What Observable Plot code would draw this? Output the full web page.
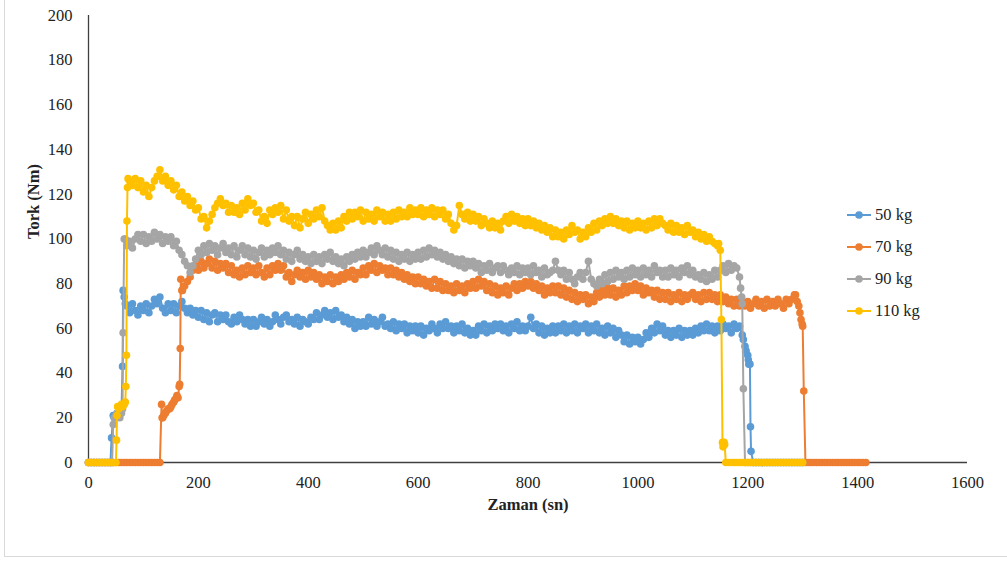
<!DOCTYPE html>
<html><head><meta charset="utf-8">
<script src="https://cdn.jsdelivr.net/npm/d3@7"></script>
<script src="https://cdn.jsdelivr.net/npm/@observablehq/plot@0.6"></script>
<style>
body{margin:0;background:#fff;}
#wrap{position:relative;width:1007px;height:563px;overflow:hidden;font-family:'Liberation Serif','Times New Roman',Tinos,'DejaVu Serif',serif;}
#wrap svg, #wrap svg text{font-family:'Liberation Serif','Times New Roman',Tinos,'DejaVu Serif',serif !important;}
#border{position:absolute;left:4px;top:-5px;width:1010px;height:562px;border:1px solid #d9d9d9;box-sizing:border-box;pointer-events:none;}
#chart{position:absolute;left:0;top:0;}
#legend{position:absolute;left:846px;top:203px;}
.row{display:flex;align-items:center;height:24px;margin-bottom:8px;font-size:16.5px;color:#222;}
.row svg{margin-right:3px;}
</style></head>
<body>
<div id="wrap"><div id="chart"></div><div id="legend"></div><div id="border"></div></div>
<script>
const seriesNames = ["50 kg", "70 kg", "90 kg", "110 kg"];
const seriesColors = ["#5B9BD5", "#ED7D31", "#A5A5A5", "#FFC000"];
const xTicks = [0, 200, 400, 600, 800, 1000, 1200, 1400, 1600];
const yTicks = [0, 20, 40, 60, 80, 100, 120, 140, 160, 180, 200];
const xTitle = "Zaman (sn)";
const yTitle = "Tork (Nm)";
const sampleStep = 5; // seconds between grid readings

// 50 kg : readings every 5 s from t = 0
const grid50 = [
  0,0,0,0,0,0,0,0,0,21,
  21,22,23,74,70,67,71,68,66,70,
  68,71,67,70,73,71,74,69,67,71,
  68,71,67,70,72,69,67,69,66,68,
  65,68,64,67,63,66,67,63,66,64,
  66,63,62,65,63,66,64,62,64,61,
  64,61,63,65,62,64,61,63,66,64,
  62,65,66,63,64,62,65,61,64,63,
  62,65,64,67,64,66,68,65,67,64,
  68,65,66,63,65,62,64,60,63,61,
  63,61,65,62,64,61,63,65,61,62,
  60,63,59,62,60,62,58,61,59,61,
  58,61,57,60,59,62,60,58,62,60,
  63,60,61,58,61,59,62,58,60,57,
  59,57,61,59,62,58,61,59,62,60,
  62,59,61,58,62,60,63,59,61,59,
  61,65,60,62,58,61,57,60,58,61,
  58,61,59,62,58,61,59,62,58,61,
  60,62,58,61,59,62,58,60,57,61,
  58,60,56,59,57,54,57,53,56,54,
  56,53,55,58,56,60,58,62,59,61,
  57,59,56,59,57,60,56,59,57,59,
  57,60,58,61,59,62,59,61,58,61,
  59,62,60,61,58,62,60,61,57,52,
  48,16,0,0,0,0,0,0,0,0,
  0,0,0,0,0,0,0,0,0,0,
  0
];
const extra50 = [[42,11],[47,20],[52,22],[57,22],[62,43],[63,77],[67,71],[1192,55],[1197,50],[1201,46],[1202,44],[1204,44],[1206,5]];

// 70 kg
const grid70 = [
  0,0,0,0,0,0,0,0,0,0,
  0,0,0,0,0,0,0,0,0,0,
  0,0,0,0,0,0,0,20,22,24,
  25,27,29,34,77,79,81,83,86,88,
  86,90,87,89,91,87,90,86,89,87,
  89,85,88,84,86,83,87,84,88,85,
  87,84,88,85,83,87,84,88,86,89,
  86,88,83,85,81,84,86,83,85,82,
  86,83,85,82,84,80,83,81,84,80,
  83,81,84,82,85,83,86,82,85,84,
  87,84,88,86,89,85,88,86,87,84,
  87,84,86,83,85,82,84,81,83,80,
  83,80,82,79,81,78,82,78,81,77,
  80,77,79,76,80,77,79,76,80,78,
  81,78,82,79,81,77,80,76,79,75,
  78,76,79,75,78,80,77,80,78,81,
  79,81,78,80,77,79,75,78,76,79,
  76,79,75,78,74,77,73,76,72,75,
  73,75,71,74,72,76,74,77,75,78,
  75,78,74,77,75,79,76,79,77,80,
  77,79,75,78,76,77,74,77,73,76,
  73,76,72,75,73,76,72,75,73,75,
  76,73,75,72,76,73,76,73,75,72,
  75,72,74,71,73,70,73,70,72,70,
  72,69,71,73,70,72,69,73,70,72,
  70,73,71,69,73,71,73,75,72,67,
  61,0,0,0,0,0,0,0,0,0,
  0,0,0,0,0,0,0,0,0,0,
  0,0,0,0
];
const extra70 = [[133,26],[134,20],[137,21],[142,23],[148,24],[152,26],[157,28],[161,30],[163,29],[166,35],[167,51],[168,82],[171,77],[1287,75],[1293,70],[1297,64],[1299,62],[1302,32]];

// 90 kg
const grid90 = [
  0,0,0,0,0,0,0,0,0,17,
  21,21,22,100,97,99,96,100,102,99,
  102,98,101,99,103,100,102,98,101,99,
  101,97,99,95,93,90,88,85,88,91,
  95,93,97,94,98,95,97,93,96,98,
  94,96,93,97,92,95,97,93,96,92,
  95,91,94,96,92,95,93,96,94,97,
  93,95,91,94,90,93,95,91,93,90,
  92,89,93,90,92,89,93,91,94,90,
  92,89,91,88,92,90,93,91,94,92,
  95,92,94,96,93,97,95,93,96,92,
  95,91,94,90,93,91,94,90,93,91,
  94,91,95,92,96,93,95,92,94,91,
  93,90,92,89,91,88,91,87,90,88,
  90,87,89,85,88,86,89,85,87,88,
  85,88,86,84,87,85,88,84,87,85,
  87,84,88,85,86,83,87,84,85,86,
  90,86,84,86,82,85,82,80,83,85,
  82,85,90,82,80,79,82,80,84,81,
  85,82,86,83,85,82,86,83,87,84,
  86,83,87,84,86,83,88,85,86,83,
  86,83,87,84,86,83,87,85,88,84,
  86,83,84,82,85,81,84,82,86,83,
  86,88,85,89,86,88,87,83,71,0,
  0,0,0,0,0,0,0,0,0,0,
  0,0,0,0,0,0,0,0,0,0,
  0
];
const extra90 = [[43,0],[47,20],[52,22],[57,20],[62,24],[63,58],[67,100],[1187,78],[1189,74],[1192,33]];

// 110 kg
const grid110 = [
  0,0,0,0,0,0,0,0,0,0,
  0,24,26,26,108,126,124,127,123,126,
  121,124,119,123,126,128,131,126,128,124,
  126,122,124,119,121,117,119,115,117,113,
  114,109,110,105,108,111,114,116,118,115,
  116,112,115,112,114,111,116,113,118,115,
  116,112,113,108,110,107,113,111,114,112,
  115,109,113,108,110,106,110,105,109,112,
  107,111,109,113,110,114,108,106,104,107,
  104,108,105,110,108,112,109,112,110,113,
  108,112,109,111,108,113,110,112,108,111,
  108,112,109,113,110,112,110,114,111,113,
  111,114,110,113,111,114,110,113,111,113,
  109,111,107,104,106,115,111,109,112,108,
  111,108,110,106,109,107,105,108,105,107,
  104,108,110,107,111,108,110,107,109,106,
  109,106,108,105,107,104,106,103,105,101,
  104,101,103,100,104,102,106,103,104,100,
  103,101,105,103,107,104,108,106,109,107,
  110,107,109,106,108,105,108,104,107,105,
  108,105,107,104,108,105,109,106,109,107,
  106,104,107,103,106,103,105,102,106,103,
  104,101,103,100,102,99,101,99,98,97,
  95,7,0,0,0,0,0,0,0,0,
  0,0,0,0,0,0,0,0,0,0,
  0,0,0,0,0,0,0,0,0,0,
  0
];
const extra110 = [[51,10],[52,21],[53,25],[57,25],[62,25],[67,27],[68,34],[69,48],[71,123],[72,127],[1147,98],[1152,64],[1154,9],[1157,9],[1158,8]];

const grids = [grid50, grid70, grid90, grid110];
const extras = [extra50, extra70, extra90, extra110];

function build(name, grid, extra) {
  const pts = grid.map((v, i) => ({series: name, t: i * sampleStep, v}));
  extra.forEach(([t, v]) => pts.push({series: name, t, v}));
  pts.sort((a, b) => a.t - b.t);
  return pts;
}
const datasets = seriesNames.map((n, i) => build(n, grids[i], extras[i]));

const font = "'Liberation Serif','Times New Roman',Tinos,'DejaVu Serif',serif";
const marks = [
  Plot.ruleY([0], {stroke: "#404040", strokeWidth: 1.3}),
  Plot.ruleX([0], {stroke: "#404040", strokeWidth: 1.3})
];
datasets.forEach((d, i) => {
  marks.push(Plot.line(d, {x: "t", y: "v", stroke: seriesColors[i], strokeWidth: 2}));
  marks.push(Plot.dot(d, {x: "t", y: "v", fill: seriesColors[i], r: 3.8, stroke: "none"}));
});
marks.push(Plot.text([xTitle], {text: d => d, frameAnchor: "bottom", dy: 47, fontWeight: "bold", fontSize: 16.5, fill: "#222"}));
marks.push(Plot.text([yTitle], {text: d => d, frameAnchor: "left", dx: -55, rotate: -90, fontWeight: "bold", fontSize: 16.5, fill: "#222"}));

const chart = Plot.plot({
  width: 1007, height: 563,
  marginLeft: 88, marginRight: 40, marginTop: 15, marginBottom: 101,
  style: {fontFamily: font, fontSize: "16.5px", color: "#222", background: "transparent", overflow: "visible"},
  x: {domain: [0, 1600], ticks: xTicks, tickFormat: d => String(d), tickSize: 0, tickPadding: 14, label: null},
  y: {domain: [0, 200], ticks: yTicks, tickFormat: d => String(d), tickSize: 0, tickPadding: 16, label: null},
  marks
});
document.getElementById("chart").appendChild(chart);

const legend = document.getElementById("legend");
seriesNames.forEach((n, i) => {
  const row = document.createElement("div");
  row.className = "row";
  row.innerHTML = `<svg width="26" height="10"><line x1="1" y1="5" x2="25" y2="5" stroke="${seriesColors[i]}" stroke-width="2"/><circle cx="13" cy="5" r="3.8" fill="${seriesColors[i]}"/></svg><span>${n}</span>`;
  legend.appendChild(row);
});
</script>
</body></html>
